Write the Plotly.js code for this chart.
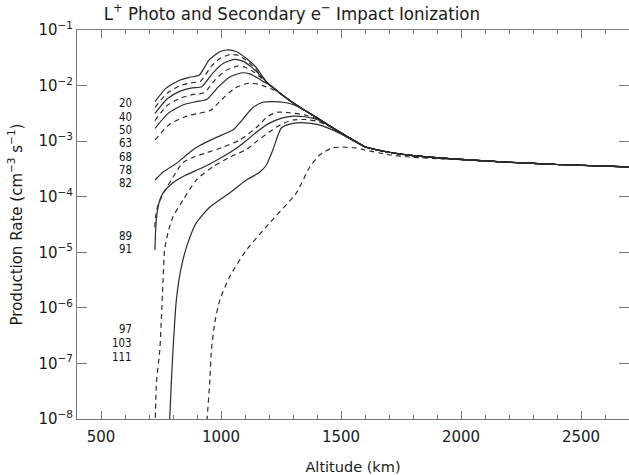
<!DOCTYPE html>
<html><head><meta charset="utf-8">
<script src="https://cdn.plot.ly/plotly-3.0.1.min.js"></script>
<style>html,body{margin:0;padding:0;background:#fff;overflow:hidden}</style>
</head><body><div id="chart" style="width:629px;height:475px"></div>
<script>
// Solar zenith angle labels of the curves
const curveLabels = ['20','40','50','63','68','78','82','89','91','97','103','111'];
const curveDashed = [false,true,false,true,false,true,false,true,false,true,false,true];

// Common high-altitude part where all curves coincide (km, cm^-3 s^-1)
const tailAltitude = [1200,1250,1300,1350,1400,1450,1500,1550,1600,1700,1800,2000,2200,2400,2700];
const tailRate = [1.05e-2,7.08e-3,4.90e-3,3.55e-3,2.63e-3,1.91e-3,1.41e-3,1.05e-3,7.94e-4,6.31e-4,5.50e-4,4.68e-4,4.17e-4,3.80e-4,3.43e-4];

const alt20 = [725,770,830,870,910,950,995,1025,1065,1105,1150,1175];
const rate20 = [5.13e-3,8.91e-3,1.26e-2,1.41e-2,1.55e-2,2.88e-2,4.07e-2,4.37e-2,4.07e-2,3.09e-2,2.04e-2,1.41e-2];

const alt40 = [725,775,830,875,915,960,1000,1040,1075,1110,1150,1180];
const rate40 = [4.07e-3,7.24e-3,1.00e-2,1.12e-2,1.20e-2,2.24e-2,3.16e-2,3.63e-2,3.47e-2,2.75e-2,1.86e-2,1.32e-2];

const alt50 = [725,775,830,880,920,965,1010,1055,1090,1125,1160,1190];
const rate50 = [3.16e-3,5.75e-3,7.94e-3,9.12e-3,9.55e-3,1.66e-2,2.51e-2,2.95e-2,2.75e-2,2.19e-2,1.58e-2,1.15e-2];

const alt63 = [725,775,835,885,930,975,1020,1068,1100,1135,1170];
const rate63 = [2.34e-3,4.37e-3,6.03e-3,6.92e-3,7.41e-3,1.26e-2,1.86e-2,2.24e-2,2.14e-2,1.78e-2,1.35e-2];

const alt68 = [725,780,840,895,940,990,1040,1088,1120,1155,1185];
const rate68 = [1.70e-3,3.16e-3,4.47e-3,5.13e-3,5.62e-3,9.55e-3,1.45e-2,1.70e-2,1.62e-2,1.35e-2,1.12e-2];

const alt78 = [725,785,850,905,955,1005,1060,1115,1150,1185,1220];
const rate78 = [1.05e-3,2.00e-3,2.75e-3,3.16e-3,3.55e-3,5.75e-3,9.12e-3,1.10e-2,1.07e-2,9.55e-3,8.32e-3];

const alt82 = [725,760,814,870,911,981,1049,1078,1132,1174,1215,1260,1300];
const rate82 = [2.00e-4,2.82e-4,3.98e-4,6.31e-4,8.32e-4,1.17e-3,1.58e-3,2.14e-3,3.98e-3,5.01e-3,5.13e-3,5.01e-3,4.57e-3];

const alt89 = [724,727,732,740,757,800,840,890,940,1007,1078,1149,1190,1232,1286,1350,1400];
const rate89 = [2.82e-5,4.2e-5,5.8e-5,7.5e-5,1.10e-4,2.24e-4,4.07e-4,5.25e-4,6.17e-4,7.76e-4,1.05e-3,1.78e-3,2.69e-3,3.31e-3,3.24e-3,2.95e-3,2.51e-3];

const alt91 = [725,727,731,737,746,760,800,850,900,950,1000,1050,1100,1150,1200,1250,1300,1350,1400];
const rate91 = [1.10e-5,2.2e-5,4.0e-5,6.3e-5,8.9e-5,1.20e-4,1.78e-4,2.40e-4,3.02e-4,3.80e-4,5.01e-4,6.76e-4,9.77e-4,1.48e-3,2.09e-3,2.57e-3,2.82e-3,2.75e-3,2.45e-3];

const alt97 = [725,731,745,752,758,765,779,800,842,897,967,1036,1106,1150,1200,1250,1300,1350,1400,1450];
const rate97 = [5.0e-9,4.47e-8,1.74e-7,6.92e-7,2.82e-6,1.10e-5,2.24e-5,4.37e-5,8.71e-5,2.00e-4,3.47e-4,5.13e-4,7.08e-4,1.00e-3,1.45e-3,2.00e-3,2.40e-3,2.45e-3,2.29e-3,1.86e-3];

const alt103 = [780,786,793,800,814,835,862,897,953,1036,1106,1161,1189,1216,1252,1300,1350,1400,1450,1500,1550];
const rate103 = [2.51e-9,9.55e-9,4.47e-8,1.74e-7,1.38e-6,5.50e-6,1.48e-5,3.39e-5,6.46e-5,1.17e-4,2.00e-4,2.75e-4,3.72e-4,6.92e-4,1.74e-3,2.09e-3,2.14e-3,2.00e-3,1.70e-3,1.35e-3,1.02e-3];

const alt111 = [935,942,953,960,974,995,1036,1106,1203,1314,1369,1411,1465,1523,1560,1600,1700,1800,1900,2000];
const rate111 = [1.0e-9,9.55e-9,4.47e-8,1.74e-7,5.37e-7,1.38e-6,3.63e-6,1.10e-5,3.39e-5,1.17e-4,3.39e-4,5.62e-4,7.59e-4,7.76e-4,7.59e-4,6.92e-4,5.69e-4,5.13e-4,4.84e-4,4.62e-4];

const xTickVals = [500,1000,1500,2000,2500];
const yTickVals = [1e-1,1e-2,1e-3,1e-4,1e-5,1e-6,1e-7,1e-8];
const yTickText = ['10<sup>−1</sup>','10<sup>−2</sup>','10<sup>−3</sup>','10<sup>−4</sup>','10<sup>−5</sup>','10<sup>−6</sup>','10<sup>−7</sup>','10<sup>−8</sup>'];

// ---- build traces ----
const curveAlt = [alt20,alt40,alt50,alt63,alt68,alt78,alt82,alt89,alt91,alt97,alt103,alt111];
const curveRate = [rate20,rate40,rate50,rate63,rate68,rate78,rate82,rate89,rate91,rate97,rate103,rate111];

const lineColor = '#2b2b2b';
const traces = curveAlt.map((alt, i) => {
  const last = alt[alt.length - 1];
  const x = alt.slice(), y = curveRate[i].slice();
  tailAltitude.forEach((a, k) => { if (a > last) { x.push(a); y.push(tailRate[k]); } });
  return {
    x: x, y: y, type: 'scatter', mode: 'lines', name: curveLabels[i],
    line: {color: lineColor, width: 1.2, shape: 'spline', smoothing: 0.6,
           dash: curveDashed[i] ? '5px,4px' : 'solid'},
    hoverinfo: 'skip', showlegend: false
  };
});

// label positions (log10 of y) – layout only
const labelLogY = [-2.32,-2.56,-2.80,-3.04,-3.28,-3.52,-3.76,-4.71,-4.94,-6.38,-6.63,-6.88];
const labelFont = 'DejaVu Sans Condensed, DejaVu Sans, sans-serif';
const annotations = curveLabels.map((t, i) => ({
  text: t, xref: 'x', yref: 'y', x: 638, y: labelLogY[i],
  xanchor: 'right', yanchor: 'middle', showarrow: false,
  font: {family: labelFont, size: 11.4, color: '#111'}
}));

const axisColor = '#777';
const layout = {
  width: 629, height: 475,
  margin: {l: 77, r: 0, t: 30, b: 56},
  paper_bgcolor: '#fff', plot_bgcolor: '#fff',
  font: {family: 'DejaVu Sans, sans-serif', color: '#1a1a1a'},
  title: {text: 'L<sup>+</sup> Photo and Secondary e<sup>−</sup> Impact Ionization',
          x: 0.464, xanchor: 'center', y: 0.972, yanchor: 'middle',
          font: {size: 18.5, family: 'DejaVu Sans Condensed, DejaVu Sans, sans-serif', color: '#1a1a1a'}},
  xaxis: {
    range: [400, 2700], showgrid: false, zeroline: false,
    showline: true, linecolor: axisColor, linewidth: 1, mirror: 'ticks',
    ticks: 'inside', ticklen: 8, tickcolor: axisColor, tickwidth: 1,
    tickvals: xTickVals, tickfont: {size: 15}, ticklabelstandoff: 4,
    minor: {dtick: 100, ticks: 'inside', ticklen: 4, tickcolor: axisColor, showgrid: false},
    title: {text: 'Altitude (km)', font: {size: 14.5}, standoff: 16}
  },
  yaxis: {
    type: 'log', range: [-8, -1], showgrid: false, zeroline: false,
    showline: true, linecolor: axisColor, linewidth: 1, mirror: 'ticks',
    ticks: 'inside', ticklen: 10, tickcolor: axisColor, tickwidth: 1,
    tickvals: yTickVals, ticktext: yTickText, tickfont: {size: 15},
    title: {text: 'Production Rate (cm<sup>−3</sup> s<sup>−1</sup>)', font: {size: 15}, standoff: 12}
  },
  annotations: annotations
};

Plotly.newPlot('chart', traces, layout, {staticPlot: true, displayModeBar: false});
</script></body></html>
